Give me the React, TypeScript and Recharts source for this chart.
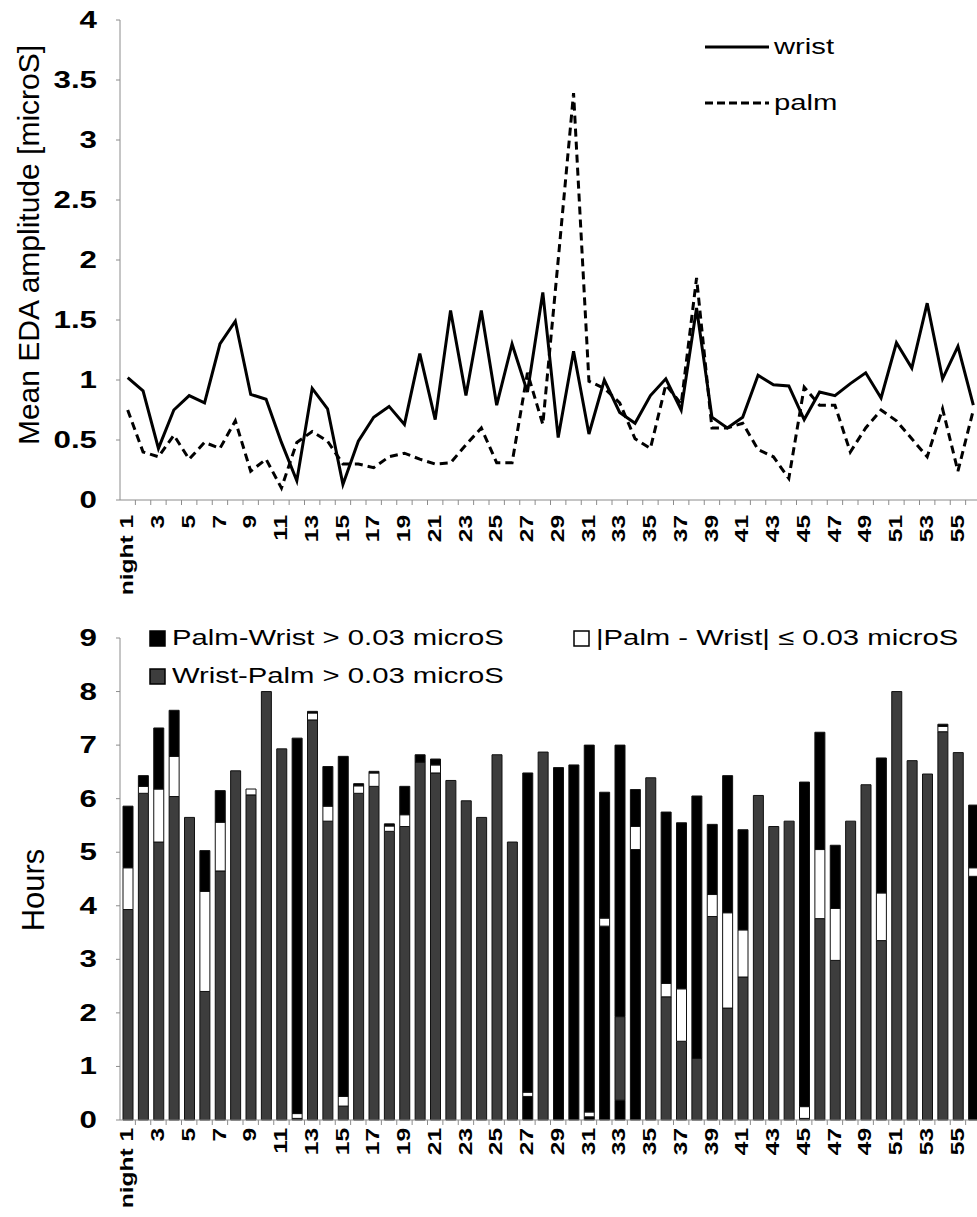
import React from 'react';
import { LineChart, Line, BarChart, Bar, XAxis, YAxis, Cell } from 'recharts';

// ---------- data ----------
const nights: number[] = [
  1, 2, 3, 4, 5, 6, 7, 8, 9, 10, 11, 12, 13, 14, 15, 16, 17, 18, 19, 20,
  21, 22, 23, 24, 25, 26, 27, 28, 29, 30, 31, 32, 33, 34, 35, 36, 37, 38, 39, 40,
  41, 42, 43, 44, 45, 46, 47, 48, 49, 50, 51, 52, 53, 54, 55, 56,
];

// mean EDA amplitude per night [microS]
const wristAmplitude: number[] = [
  1.02, 0.91, 0.43, 0.75, 0.87, 0.81, 1.3, 1.49, 0.88, 0.84, 0.48, 0.16, 0.93, 0.76,
  0.13, 0.49, 0.69, 0.78, 0.63, 1.22, 0.67, 1.58, 0.87, 1.58, 0.79, 1.3, 0.9, 1.73,
  0.52, 1.24, 0.55, 1.0, 0.73, 0.64, 0.87, 1.01, 0.75, 1.6, 0.69, 0.6, 0.69, 1.04,
  0.96, 0.95, 0.67, 0.9, 0.87, 0.97, 1.06, 0.85, 1.31, 1.1, 1.64, 1.01, 1.28, 0.79,
];
const palmAmplitude: number[] = [
  0.75, 0.4, 0.36, 0.54, 0.34, 0.48, 0.43, 0.66, 0.24, 0.34, 0.1, 0.48, 0.57, 0.49,
  0.3, 0.3, 0.27, 0.36, 0.39, 0.34, 0.3, 0.31, 0.46, 0.6, 0.31, 0.31, 1.06, 0.63,
  2.0, 3.39, 0.99, 0.93, 0.81, 0.51, 0.43, 0.96, 0.8, 1.85, 0.6, 0.6, 0.64, 0.42,
  0.36, 0.18, 0.94, 0.79, 0.79, 0.4, 0.6, 0.75, 0.66, 0.51, 0.36, 0.76, 0.24, 0.75,
];

const amplitudeTicks: number[] = [0, 0.5, 1, 1.5, 2, 2.5, 3, 3.5, 4];
const hourTicks: number[] = [0, 1, 2, 3, 4, 5, 6, 7, 8, 9];

// P: Palm-Wrist > 0.03, W: Wrist-Palm > 0.03, E: |Palm - Wrist| <= 0.03
type Kind = 'P' | 'W' | 'E';

// hours of each night, as runs stacked from the bottom up
const nightRuns: [Kind, number][][] = [
  [['W', 3.93], ['E', 0.78], ['P', 1.15]],
  [['W', 6.1], ['E', 0.13], ['P', 0.2]],
  [['W', 5.19], ['E', 0.99], ['P', 1.14]],
  [['W', 6.04], ['E', 0.75], ['P', 0.86]],
  [['W', 5.65]],
  [['W', 2.4], ['E', 1.87], ['P', 0.76]],
  [['W', 4.65], ['E', 0.91], ['P', 0.59]],
  [['W', 6.52]],
  [['W', 6.07], ['E', 0.11]],
  [['W', 8.0]],
  [['W', 6.93]],
  [['W', 0.03], ['E', 0.09], ['P', 7.01]],
  [['W', 7.47], ['E', 0.13], ['P', 0.03]],
  [['W', 5.58], ['E', 0.28], ['P', 0.74]],
  [['W', 0.26], ['E', 0.18], ['P', 6.35]],
  [['W', 6.1], ['E', 0.14], ['P', 0.04]],
  [['W', 6.23], ['E', 0.25], ['P', 0.03]],
  [['W', 5.39], ['E', 0.1], ['P', 0.04]],
  [['W', 5.48], ['E', 0.22], ['P', 0.53]],
  [['W', 6.68], ['P', 0.14]],
  [['W', 6.48], ['E', 0.15], ['P', 0.11]],
  [['W', 6.34]],
  [['W', 5.96]],
  [['W', 5.65]],
  [['W', 6.82]],
  [['W', 5.19]],
  [['P', 0.44], ['E', 0.08], ['P', 5.96]],
  [['W', 6.87]],
  [['P', 6.58]],
  [['P', 6.63]],
  [['P', 0.06], ['E', 0.09], ['P', 6.85]],
  [['P', 3.62], ['E', 0.15], ['P', 2.35]],
  [['P', 0.37], ['W', 1.56], ['P', 5.07]],
  [['P', 5.05], ['E', 0.43], ['P', 0.69]],
  [['W', 6.39]],
  [['W', 2.3], ['E', 0.25], ['P', 3.2]],
  [['W', 1.47], ['E', 0.98], ['P', 3.1]],
  [['W', 1.15], ['P', 4.9]],
  [['W', 3.8], ['E', 0.41], ['P', 1.31]],
  [['W', 2.09], ['E', 1.78], ['P', 2.56]],
  [['W', 2.67], ['E', 0.88], ['P', 1.87]],
  [['W', 6.06]],
  [['W', 5.48]],
  [['W', 5.58]],
  [['W', 0.03], ['E', 0.22], ['P', 6.06]],
  [['W', 3.76], ['E', 1.29], ['P', 2.19]],
  [['W', 2.98], ['E', 0.97], ['P', 1.18]],
  [['W', 5.58]],
  [['W', 6.26]],
  [['W', 3.35], ['E', 0.89], ['P', 2.52]],
  [['W', 8.0]],
  [['W', 6.71]],
  [['W', 6.46]],
  [['W', 7.25], ['E', 0.1], ['P', 0.04]],
  [['W', 6.86]],
  [['P', 4.55], ['E', 0.16], ['P', 1.17]],
];

const legendLabels = {
  P: 'Palm-Wrist > 0.03 microS',
  W: 'Wrist-Palm > 0.03 microS',
  E: '|Palm - Wrist| \u2264 0.03 microS',
};

// ---------- styling ----------
const FONT = '"Liberation Sans", Arial, Helvetica, sans-serif';
const KIND_FILL: Record<Kind, string> = { P: '#000000', W: '#3d3d3d', E: '#ffffff' };
const AXIS_GREY = '#8c8c8c';
const RUN_LAYERS = [0, 1, 2];

const amplitudeData = nights.map((n, i) => ({
  night: n,
  wrist: wristAmplitude[i],
  palm: palmAmplitude[i],
}));

const hoursData = nights.map((n, i) => {
  const row: Record<string, number | string> = { night: n };
  RUN_LAYERS.forEach((j) => {
    const run = nightRuns[i][j];
    row[`h${j}`] = run ? run[1] : 0;
    row[`k${j}`] = run ? run[0] : 'W';
  });
  return row;
});

// ---------- ticks ----------
// gap between the axis line and the end of each rotated label
const LABEL_GAP_TOP = 15;
const LABEL_GAP_BOTTOM = 8;

// every category gets a small mark on its right-hand boundary;
// only odd nights carry a label
const makeNightTick = (gap: number) => (props: any) => {
  const { x, y, payload, index } = props;
  const n = payload.value;
  const half = props.width && props.visibleTicksCount ? props.width / props.visibleTicksCount / 2 : 7.7;
  const label = n === 1 ? 'night 1' : String(n);
  return (
    <g transform={`translate(${x},${y})`}>
      <line x1={half} y1={-gap} x2={half} y2={-gap + 5} stroke={AXIS_GREY} strokeWidth={1} />
      {index % 2 === 0 ? (
        <text
          transform="rotate(-90) scale(1.4,1)"
          x={0}
          y={0}
          textAnchor="end"
          dominantBaseline="central"
          fontFamily={FONT}
          fontWeight="bold"
          fontSize={17.5}
          fill="#000"
        >
          {label}
        </text>
      ) : null}
    </g>
  );
};
const TopNightTick = makeNightTick(LABEL_GAP_TOP);
const BottomNightTick = makeNightTick(LABEL_GAP_BOTTOM);

const ValueTick = (props: any) => {
  const { x, y, payload } = props;
  return (
    <g transform={`translate(${x},${y})`}>
      <text
        transform="scale(1.36,1)"
        x={0}
        y={0}
        textAnchor="end"
        dominantBaseline="central"
        fontFamily={FONT}
        fontWeight="bold"
        fontSize={23}
        fill="#000"
      >
        {String(payload.value)}
      </text>
    </g>
  );
};

// ---------- legend pieces ----------
const wideText: React.CSSProperties = {
  display: 'inline-block',
  transform: 'scaleX(1.3)',
  transformOrigin: 'left center',
  whiteSpace: 'nowrap',
  fontFamily: FONT,
  fontSize: 22.5,
  lineHeight: '24px',
  color: '#000',
};

const LineKey = ({ x, y, dashed, label }: { x: number; y: number; dashed: boolean; label: string }) => (
  <div style={{ position: 'absolute', left: x, top: y - 12, height: 24, display: 'flex', alignItems: 'center' }}>
    <svg width={64} height={24} style={{ display: 'block' }}>
      <line x1={0} y1={12} x2={64} y2={12} stroke="#000" strokeWidth={3} strokeDasharray={dashed ? '8 4' : undefined} />
    </svg>
    <span style={{ ...wideText, marginLeft: 5 }}>{label}</span>
  </div>
);

const BoxKey = ({ x, y, kind }: { x: number; y: number; kind: Kind }) => (
  <div style={{ position: 'absolute', left: x, top: y - 12, height: 24, display: 'flex', alignItems: 'center' }}>
    <svg width={17} height={17} style={{ display: 'block' }}>
      <rect x={1} y={1} width={15} height={15} fill={KIND_FILL[kind]} stroke="#000" strokeWidth={1.5} />
    </svg>
    <span style={{ ...wideText, marginLeft: 6 }}>{legendLabels[kind]}</span>
  </div>
);

export default function App() {
  return (
    <div
      style={{
        position: 'absolute',
        left: 0,
        top: 0,
        width: 977,
        height: 1217,
        overflow: 'hidden',
        background: '#fff',
      }}
    >
      {/* upper panel: mean EDA amplitude per night */}
      <div style={{ position: 'absolute', left: 0, top: 0 }}>
        <LineChart width={981} height={600} data={amplitudeData} margin={{ top: 20, right: 0, bottom: 0, left: 0 }}>
          <XAxis
            dataKey="night"
            scale="band"
            interval={0}
            height={100}
            stroke={AXIS_GREY}
            tickLine={false}
            tickSize={0}
            tickMargin={LABEL_GAP_TOP}
            tick={<TopNightTick />}
          />
          <YAxis
            type="number"
            domain={[0, 4]}
            ticks={amplitudeTicks}
            width={120}
            stroke={AXIS_GREY}
            tickSize={4}
            tickMargin={19}
            tick={<ValueTick />}
          />
          <Line
            dataKey="palm"
            stroke="#000"
            strokeWidth={3}
            strokeDasharray="8 5"
            dot={false}
            isAnimationActive={false}
          />
          <Line dataKey="wrist" stroke="#000" strokeWidth={3} dot={false} isAnimationActive={false} />
        </LineChart>
      </div>

      {/* lower panel: hours per night by EDA difference */}
      <div style={{ position: 'absolute', left: 0, top: 600 }}>
        <BarChart width={981} height={617} data={hoursData} margin={{ top: 38, right: 0, bottom: 0, left: 0 }}>
          <XAxis
            dataKey="night"
            interval={0}
            height={97}
            stroke={AXIS_GREY}
            tickLine={false}
            tickSize={0}
            tickMargin={LABEL_GAP_BOTTOM}
            tick={<BottomNightTick />}
          />
          <YAxis
            type="number"
            domain={[0, 9]}
            ticks={hourTicks}
            width={120}
            stroke={AXIS_GREY}
            tickSize={4}
            tickMargin={19}
            tick={<ValueTick />}
          />
          {RUN_LAYERS.map((j) => (
            <Bar
              key={j}
              dataKey={`h${j}`}
              stackId="night"
              barSize={10}
              stroke="#111"
              strokeWidth={1}
              isAnimationActive={false}
            >
              {hoursData.map((d, i) => (
                <Cell key={i} fill={KIND_FILL[d[`k${j}`] as Kind]} />
              ))}
            </Bar>
          ))}
        </BarChart>
      </div>

      {/* axis titles */}
      <svg width={977} height={1217} style={{ position: 'absolute', left: 0, top: 0, pointerEvents: 'none' }}>
        <text
          transform="translate(28,245) rotate(-90)"
          textAnchor="middle"
          dominantBaseline="central"
          fontFamily={FONT}
          fontSize={30}
          fill="#000"
        >
          Mean EDA amplitude [microS]
        </text>
        <text
          transform="translate(33,890) rotate(-90)"
          textAnchor="middle"
          dominantBaseline="central"
          fontFamily={FONT}
          fontSize={31}
          fill="#000"
        >
          Hours
        </text>
      </svg>

      {/* legends */}
      <LineKey x={705} y={47} dashed={false} label="wrist" />
      <LineKey x={705} y={103} dashed={true} label="palm" />
      <BoxKey x={149} y={638} kind="P" />
      <BoxKey x={149} y={676} kind="W" />
      <BoxKey x={573} y={638} kind="E" />
    </div>
  );
}
